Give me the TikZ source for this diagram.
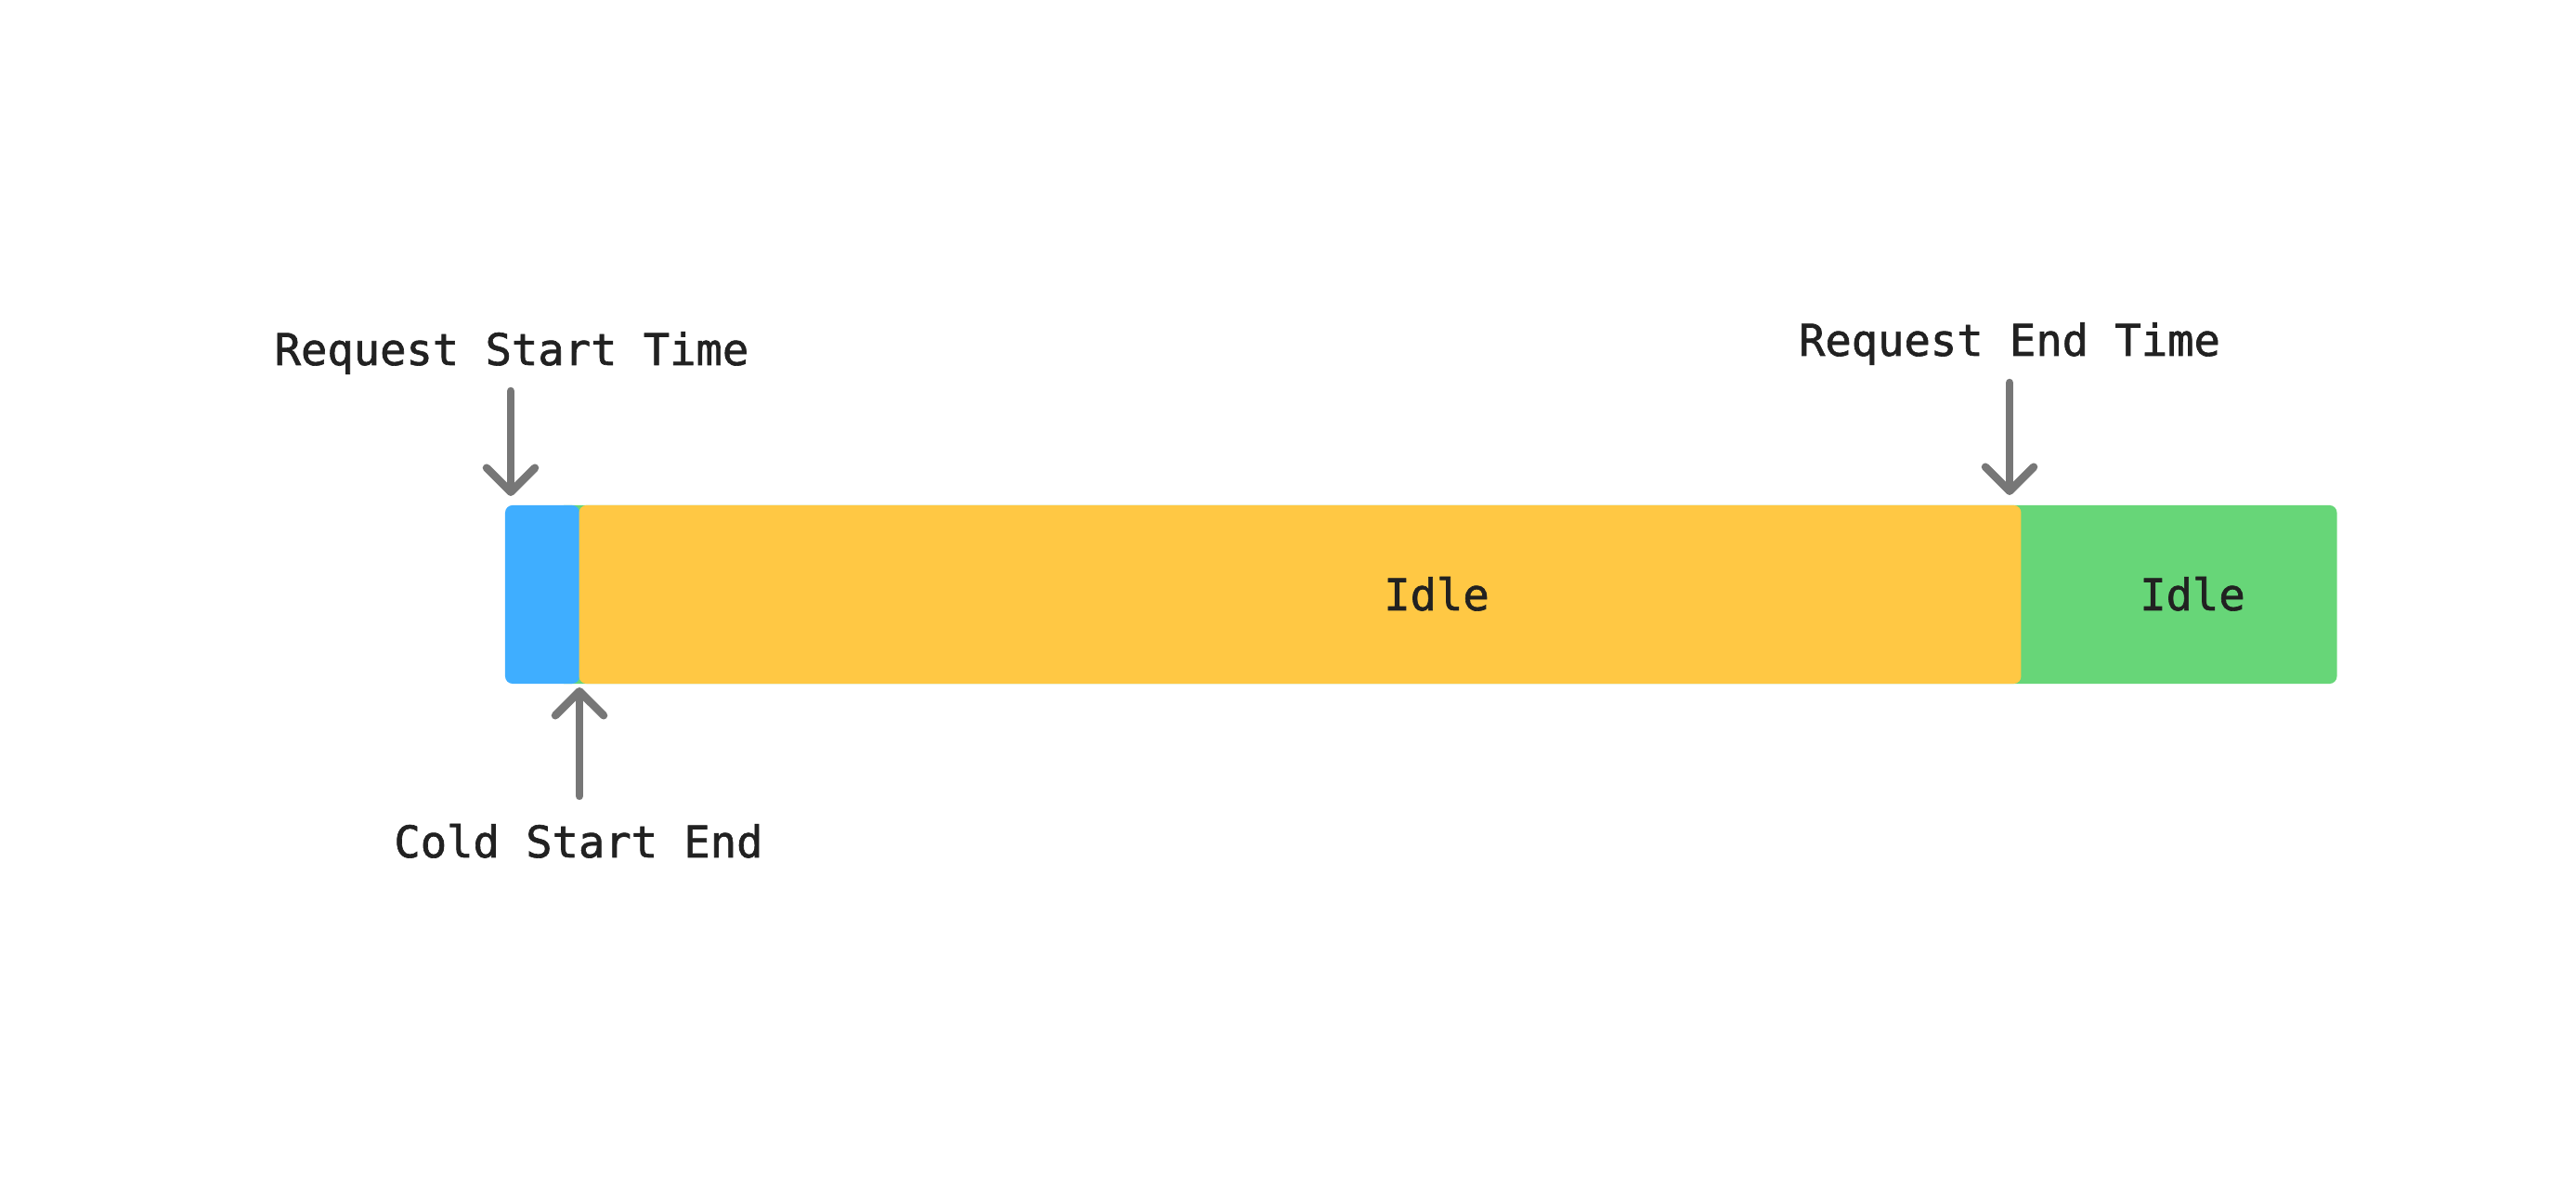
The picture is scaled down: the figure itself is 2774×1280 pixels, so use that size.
\documentclass[tikz,border=0pt]{standalone}
\usepackage{fontspec}
\setmonofont{DejaVu Sans Mono}[FakeBold=1.4]
\usetikzlibrary{arrows.meta}

\definecolor{coldblue}{HTML}{3FAEFF}
\definecolor{busyyellow}{HTML}{FFC844}
\definecolor{idlegreen}{HTML}{67D678}
\definecolor{pointergray}{HTML}{777777}
\definecolor{labelblack}{HTML}{212121}

\tikzset{
  bar/.style={rounded corners=0.08cm, inner sep=0pt, minimum height=1.92cm},
  lbl/.style={inner sep=0pt, anchor=base, text=labelblack,
    font=\ttfamily\fontsize{13.4pt}{16pt}\selectfont},
  pointer/.style={draw=pointergray, line width=0.085cm, line cap=round,
    -{Straight Barb[length=0.26cm,width=0.52cm,round]}}
}

\begin{document}
\begin{tikzpicture}[x=0.01cm,y=-0.01cm]
\useasboundingbox (0,0) rectangle (2774,1280);

\node[bar, fill=idlegreen, minimum width=19.16cm] (green) at (1558,640) {};
\node[bar, fill=coldblue, minimum width=0.80cm] (blue) at (584,640) {};
\node[bar, fill=busyyellow, minimum width=15.52cm] (yellow) at (1400,640) {};

\node[lbl] (idle1) at (1547,657) {Idle};
\node[lbl] (idle2) at (2361,657) {Idle};

\node[lbl] (reqstart) at (551,393) {Request Start Time};
\node[lbl] (reqend) at (2164,383) {Request End Time};
\node[lbl] (coldend) at (623,923) {Cold Start End};

\coordinate (rs) at (550,421);
\coordinate (rstip) at (550,534);
\coordinate (re) at (2164,412);
\coordinate (retip) at (2164,533);
\coordinate (ce) at (624,857);
\coordinate (cetip) at (624,740);

\path[pointer] (rs) -- (rstip);
\path[pointer] (re) -- (retip);
\path[pointer] (ce) -- (cetip);

\end{tikzpicture}
\end{document}
